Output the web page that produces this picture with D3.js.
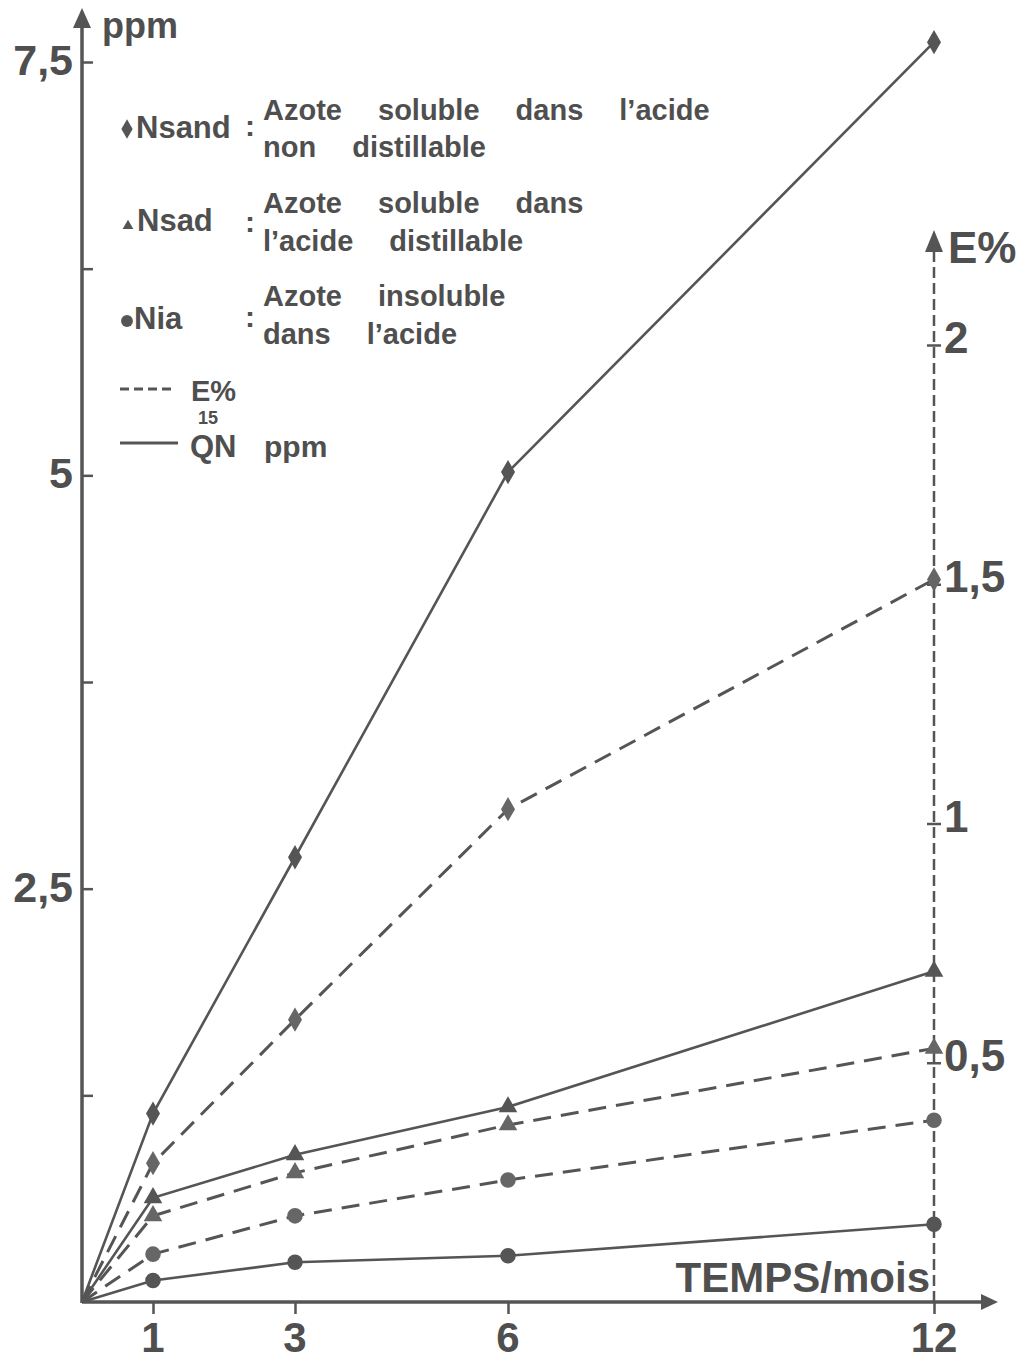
<!DOCTYPE html>
<html>
<head>
<meta charset="utf-8">
<script src="https://cdn.jsdelivr.net/npm/d3@7"></script>
<style>
  html, body { margin: 0; padding: 0; background: #fff; }
  svg { display: block; }
  text { font-family: "Liberation Sans", Arial, sans-serif; font-weight: bold; fill: #4f4f4f; }
</style>
</head>
<body>
<script>
// Time points (months) and 15N measurements per nitrogen fraction
const months = [0, 1, 3, 6, 12];
// QN15 in ppm (solid lines)
const qnNsand = [0, 1.14, 2.69, 5.02, 7.62];
const qnNsad  = [0, 0.63, 0.89, 1.18, 2.00];
const qnNia   = [0, 0.13, 0.24, 0.28, 0.47];
// E% enrichment (dashed lines)
const eNsand = [0, 0.29, 0.59, 1.03, 1.51];
const eNsad  = [0, 0.18, 0.27, 0.37, 0.53];
const eNia   = [0, 0.10, 0.18, 0.255, 0.38];

const xTicks = [1, 3, 6, 12];
const xTickLabels = ["1", "3", "6", "12"];
const ppmTicks = [1.25, 2.5, 3.75, 5, 6.25, 7.5];
const ppmLabels = { 2.5: "2,5", 5: "5", 7.5: "7,5" };
const eTicks = [0.5, 1, 1.5, 2];
const eLabels = ["0,5", "1", "1,5", "2"];

const W = 1029, H = 1363;
const ink = "#555";

const svg = d3.select("body").append("svg").attr("width", W).attr("height", H);

const x = d3.scaleLinear().domain([0, 12]).range([82, 934]);
const yL = d3.scaleLinear().domain([0, 7.5]).range([1302, 62]);
const yR = d3.scaleLinear().domain([0, 2]).range([1302, 345]);

// ---- Left axis (ppm)
const leftAxis = d3.axisRight(yL).tickValues(ppmTicks).tickSize(11).tickFormat("");
const gL = svg.append("g").attr("transform", `translate(${x(0)},0)`).call(leftAxis);
gL.select(".domain").remove();
gL.selectAll(".tick line").attr("stroke", ink).attr("stroke-width", 2.5);
svg.append("line").attr("x1", x(0)).attr("x2", x(0)).attr("y1", yL(0) + 1).attr("y2", 24)
  .attr("stroke", ink).attr("stroke-width", 3.5);
svg.append("path").attr("d", `M${x(0)},8 L${x(0) - 9},28 L${x(0) + 9},28 Z`).attr("fill", ink);
svg.selectAll(".ppmLab").data(ppmTicks.filter(t => ppmLabels[t])).join("text")
  .attr("x", 73).attr("y", d => yL(d) + 13)
  .attr("text-anchor", "end").attr("font-size", 43)
  .text(d => ppmLabels[d]);
svg.append("text").attr("x", 102).attr("y", 38).attr("font-size", 36).text("ppm");

// ---- Bottom axis (months)
const bottomAxis = d3.axisBottom(x).tickValues(xTicks).tickSize(12).tickFormat("");
const gB = svg.append("g").attr("transform", `translate(0,${yL(0)})`).call(bottomAxis);
gB.select(".domain").remove();
gB.selectAll(".tick line").attr("stroke", ink).attr("stroke-width", 2.5);
svg.append("line").attr("x1", x(0)).attr("x2", 984).attr("y1", yL(0)).attr("y2", yL(0))
  .attr("stroke", ink).attr("stroke-width", 3.5);
svg.append("path").attr("d", `M998,${yL(0)} L981,${yL(0) - 8} L981,${yL(0) + 8} Z`).attr("fill", ink);
svg.selectAll(".xLab").data(xTicks).join("text")
  .attr("x", d => x(d)).attr("y", 1352)
  .attr("text-anchor", "middle").attr("font-size", 42)
  .text((d, i) => xTickLabels[i]);
svg.append("text").attr("x", 930).attr("y", 1292).attr("text-anchor", "end")
  .attr("font-size", 42).text("TEMPS/mois");

// ---- Right axis (E%)
svg.append("line").attr("x1", x(12)).attr("x2", x(12)).attr("y1", yR(0)).attr("y2", 250)
  .attr("stroke", ink).attr("stroke-width", 2.5).attr("stroke-dasharray", "11,5");
svg.append("path").attr("d", `M${x(12)},230 L${x(12) - 9},252 L${x(12) + 9},252 Z`).attr("fill", ink);
const rightAxis = d3.axisRight(yR).tickValues(eTicks).tickSize(7).tickFormat("");
const gR = svg.append("g").attr("transform", `translate(${x(12)},0)`).call(rightAxis);
gR.select(".domain").remove();
gR.selectAll(".tick line").attr("x1", -7).attr("stroke", ink).attr("stroke-width", 2.5);
svg.selectAll(".eLab").data(eTicks).join("text")
  .attr("x", 944).attr("y", d => yR(d) + 8)
  .attr("font-size", 44)
  .text((d, i) => eLabels[i]);
svg.append("text").attr("x", 948).attr("y", 263).attr("font-size", 44).text("E%");

// ---- Series
const series = [
  { qn: qnNsand, e: eNsand, sym: d3.symbolDiamond, size: 170 },
  { qn: qnNsad,  e: eNsad,  sym: d3.symbolTriangle, size: 150 },
  { qn: qnNia,   e: eNia,   sym: d3.symbolCircle, size: 190 }
];

const lineL = d3.line().x(d => x(d[0])).y(d => yL(d[1]));
const lineR = d3.line().x(d => x(d[0])).y(d => yR(d[1]));

series.forEach(s => {
  const ptsQ = months.map((m, i) => [m, s.qn[i]]);
  const ptsE = months.map((m, i) => [m, s.e[i]]);
  svg.append("path").attr("d", lineR(ptsE)).attr("fill", "none")
    .attr("stroke", ink).attr("stroke-width", 3).attr("stroke-dasharray", "18,10");
  svg.append("path").attr("d", lineL(ptsQ)).attr("fill", "none")
    .attr("stroke", ink).attr("stroke-width", 2.6);
  const sym = d3.symbol().type(s.sym).size(s.size);
  svg.selectAll(null).data(ptsE.slice(1)).join("path")
    .attr("d", sym).attr("transform", d => `translate(${x(d[0])},${yR(d[1])})`)
    .attr("fill", "#666");
  svg.selectAll(null).data(ptsQ.slice(1)).join("path")
    .attr("d", sym).attr("transform", d => `translate(${x(d[0])},${yL(d[1])})`)
    .attr("fill", ink);
});

// ---- Legend
const leg = svg.append("g");
const legendRows = [
  { sym: d3.symbolDiamond, size: 110, mx: 127, my: 129, name: "Nsand", nx: 136, ny: 138, cx: 245, cy: 136,
    lines: ["Azote soluble dans l\u2019acide", "non distillable"], ly: [120, 157] },
  { sym: d3.symbolTriangle, size: 50, mx: 128, my: 226, name: "Nsad", nx: 137, ny: 231, cx: 245, cy: 232,
    lines: ["Azote soluble dans", "l\u2019acide distillable"], ly: [213, 251] },
  { sym: d3.symbolCircle, size: 110, mx: 127, my: 321, name: "Nia", nx: 134, ny: 329, cx: 245, cy: 327,
    lines: ["Azote insoluble", "dans l\u2019acide"], ly: [306, 344] }
];
legendRows.forEach(r => {
  leg.append("path").attr("d", d3.symbol().type(r.sym).size(r.size)())
    .attr("transform", `translate(${r.mx},${r.my})`).attr("fill", ink);
  leg.append("text").attr("x", r.nx).attr("y", r.ny).attr("font-size", 31).text(r.name);
  leg.append("text").attr("x", r.cx).attr("y", r.cy).attr("font-size", 30).text(":");
  r.lines.forEach((t, i) => {
    leg.append("text").attr("x", 263).attr("y", r.ly[i]).attr("font-size", 29)
      .attr("word-spacing", 28).text(t);
  });
});
leg.append("line").attr("x1", 120).attr("x2", 176).attr("y1", 389).attr("y2", 389)
  .attr("stroke", ink).attr("stroke-width", 3).attr("stroke-dasharray", "9,5");
leg.append("text").attr("x", 191).attr("y", 401).attr("font-size", 29).text("E%");
leg.append("line").attr("x1", 120).attr("x2", 178).attr("y1", 443).attr("y2", 443)
  .attr("stroke", ink).attr("stroke-width", 3);
leg.append("text").attr("x", 198).attr("y", 424).attr("font-size", 18).text("15");
leg.append("text").attr("x", 190).attr("y", 457).attr("font-size", 31).text("QN");
leg.append("text").attr("x", 264).attr("y", 457).attr("font-size", 30).text("ppm");
</script>
</body>
</html>
